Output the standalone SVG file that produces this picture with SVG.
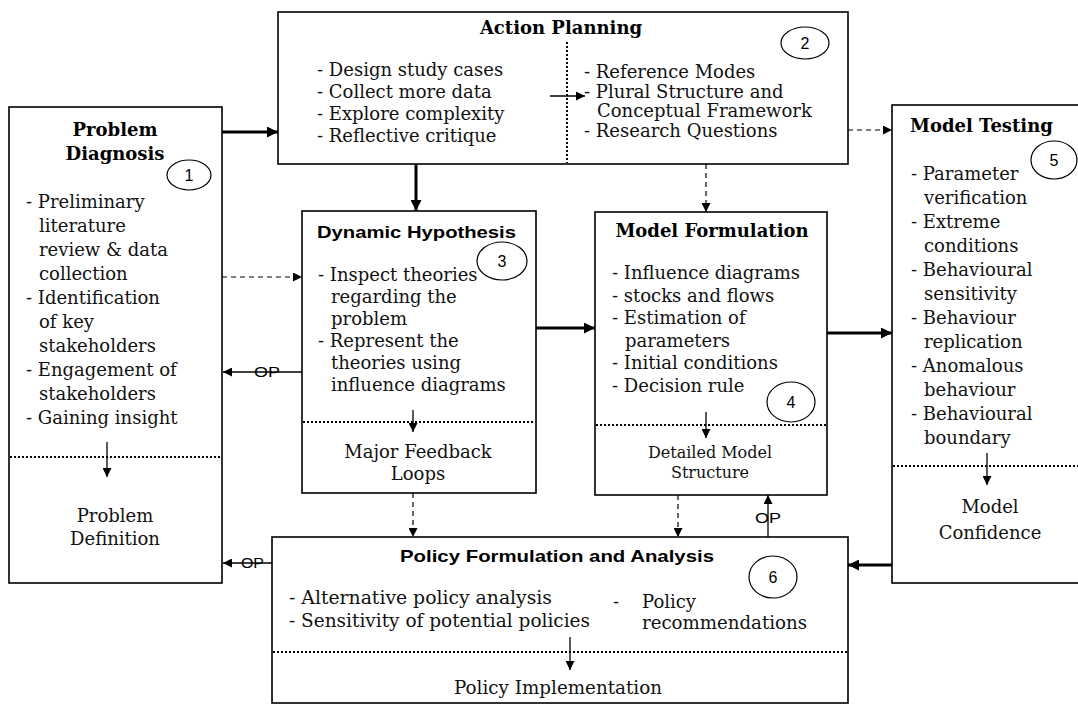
<svg xmlns="http://www.w3.org/2000/svg" width="1078" height="704" viewBox="0 0 1078 704">
<defs>
<style>
.box{fill:#fff;stroke:#000;stroke-width:1.6}
.t{font-family:"DejaVu Serif",serif;font-size:18px;fill:#111}
.tm{font-family:"DejaVu Serif",serif;font-size:16px;fill:#111}
.tb{font-family:"DejaVu Serif",serif;font-size:18px;font-weight:bold;fill:#000}
.ts{font-family:"Liberation Sans",Arial,sans-serif;font-size:17px;font-weight:bold;fill:#000}
.op{font-family:"Liberation Sans",Arial,sans-serif;font-size:15px;fill:#000}
.num{font-family:"Liberation Sans",Arial,sans-serif;font-size:16px;fill:#000}
.dot{stroke:#000;stroke-width:2;stroke-dasharray:2 2;fill:none}
.ell{fill:#fff;stroke:#000;stroke-width:1.2}
.thick{stroke:#000;stroke-width:3;fill:none}
.thin{stroke:#000;stroke-width:1.3;fill:none}
.dash{stroke:#000;stroke-width:1.2;stroke-dasharray:5 4;fill:none}
.c{text-anchor:middle}
</style>
<marker id="ahb" viewBox="0 0 10 10" refX="10" refY="5" markerWidth="12" markerHeight="11" markerUnits="userSpaceOnUse" orient="auto"><path d="M0,0 L10,5 L0,10 z" fill="#000"/></marker>
<marker id="ahs" viewBox="0 0 10 10" refX="10" refY="5" markerWidth="10" markerHeight="9" markerUnits="userSpaceOnUse" orient="auto"><path d="M0,0 L10,5 L0,10 z" fill="#000"/></marker>
</defs>
<rect width="1078" height="704" fill="#fff"/>

<g id="problem-diagnosis">
<rect class="box" x="9" y="107" width="213" height="476"/>
<text class="tb c" x="115" y="136">Problem</text>
<text class="tb c" x="115" y="160">Diagnosis</text>
<ellipse class="ell" cx="189" cy="175" rx="22" ry="15"/>
<text class="num c" x="189" y="181">1</text>
<text class="t" x="26" y="208">- Preliminary</text>
<text class="t" x="39" y="232">literature</text>
<text class="t" x="39" y="256">review  &amp; data</text>
<text class="t" x="39" y="280">collection</text>
<text class="t" x="26" y="304">- Identification</text>
<text class="t" x="39" y="328">of key</text>
<text class="t" x="39" y="352">stakeholders</text>
<text class="t" x="26" y="376">- Engagement  of</text>
<text class="t" x="39" y="400">stakeholders</text>
<text class="t" x="26" y="424">- Gaining  insight</text>
<line class="dot" x1="10" y1="457" x2="221" y2="457"/>
<line class="thin" x1="107" y1="442" x2="107" y2="477" marker-end="url(#ahs)"/>
<text class="t c" x="115" y="522">Problem</text>
<text class="t c" x="115" y="545">Definition</text>
</g>

<g id="action-planning">
<rect class="box" x="278" y="12" width="570" height="152"/>
<text class="tb c" x="561" y="34">Action Planning</text>
<ellipse class="ell" cx="805" cy="43" rx="24" ry="16"/>
<text class="num c" x="805" y="49">2</text>
<text class="t" x="317" y="76">- Design study cases</text>
<text class="t" x="317" y="98">- Collect more data</text>
<text class="t" x="317" y="120">- Explore  complexity</text>
<text class="t" x="317" y="142">- Reflective critique</text>
<line class="dot" x1="567" y1="42" x2="567" y2="163"/>
<line class="thin" x1="550" y1="96" x2="585" y2="96" marker-end="url(#ahs)"/>
<text class="t" x="584" y="78">- Reference Modes</text>
<text class="t" x="584" y="98">- Plural Structure and</text>
<text class="t" x="597" y="117">Conceptual Framework</text>
<text class="t" x="584" y="137">- Research Questions</text>
</g>

<g id="dynamic-hypothesis">
<rect class="box" x="302" y="211" width="234" height="282"/>
<text class="ts" x="317" y="238" textLength="199" lengthAdjust="spacingAndGlyphs">Dynamic Hypothesis</text>
<ellipse class="ell" cx="502" cy="261" rx="25" ry="19"/>
<text class="num c" x="502" y="267">3</text>
<text class="t" x="318" y="281">- Inspect theories</text>
<text class="t" x="331" y="303">regarding the</text>
<text class="t" x="331" y="325">problem</text>
<text class="t" x="318" y="347">- Represent the</text>
<text class="t" x="331" y="369">theories using</text>
<text class="t" x="331" y="391">influence diagrams</text>
<line class="dot" x1="303" y1="422" x2="535" y2="422"/>
<line class="thin" x1="413" y1="410" x2="413" y2="432" marker-end="url(#ahs)"/>
<text class="t c" x="418" y="458">Major Feedback</text>
<text class="t c" x="418" y="480">Loops</text>
</g>

<g id="model-formulation">
<rect class="box" x="595" y="212" width="232" height="283"/>
<text class="tb c" x="712" y="237">Model Formulation</text>
<text class="t" x="612" y="279">- Influence diagrams</text>
<text class="t" x="612" y="302">- stocks and flows</text>
<text class="t" x="612" y="324">- Estimation  of</text>
<text class="t" x="625" y="347">parameters</text>
<text class="t" x="612" y="369">- Initial  conditions</text>
<text class="t" x="612" y="392">- Decision rule</text>
<ellipse class="ell" cx="791" cy="402" rx="24" ry="20"/>
<text class="num c" x="791" y="408">4</text>
<line class="dot" x1="596" y1="425" x2="826" y2="425"/>
<line class="thin" x1="706" y1="412" x2="706" y2="438" marker-end="url(#ahs)"/>
<text class="tm c" x="710" y="458">Detailed Model</text>
<text class="tm c" x="710" y="478">Structure</text>
</g>

<g id="model-testing">
<rect class="box" x="892" y="105" width="200" height="478"/>
<text class="tb" x="910" y="132">Model Testing</text>
<ellipse class="ell" cx="1054" cy="160" rx="23" ry="19"/>
<text class="num c" x="1054" y="166">5</text>
<text class="t" x="911" y="180">- Parameter</text>
<text class="t" x="924" y="204">verification</text>
<text class="t" x="911" y="228">- Extreme</text>
<text class="t" x="924" y="252">conditions</text>
<text class="t" x="911" y="276">- Behavioural</text>
<text class="t" x="924" y="300">sensitivity</text>
<text class="t" x="911" y="324">- Behaviour</text>
<text class="t" x="924" y="348">replication</text>
<text class="t" x="911" y="372">- Anomalous</text>
<text class="t" x="924" y="396">behaviour</text>
<text class="t" x="911" y="420">- Behavioural</text>
<text class="t" x="924" y="444">boundary</text>
<line class="dot" x1="893" y1="466" x2="1078" y2="466"/>
<line class="thin" x1="987" y1="453" x2="987" y2="485" marker-end="url(#ahs)"/>
<text class="t c" x="990" y="513">Model</text>
<text class="t c" x="990" y="539">Confidence</text>
</g>

<g id="policy-formulation">
<rect class="box" x="272" y="537" width="576" height="166"/>
<text class="ts" x="400" y="562" textLength="314" lengthAdjust="spacingAndGlyphs">Policy Formulation and Analysis</text>
<ellipse class="ell" cx="773" cy="577" rx="24" ry="21"/>
<text class="num c" x="773" y="583">6</text>
<text class="t" x="289" y="604" textLength="263" lengthAdjust="spacingAndGlyphs">- Alternative policy  analysis</text>
<text class="t" x="289" y="627" textLength="301" lengthAdjust="spacingAndGlyphs">- Sensitivity  of potential  policies</text>
<text class="t" x="613" y="608">-</text>
<text class="t" x="642" y="608">Policy</text>
<text class="t" x="642" y="629" textLength="165" lengthAdjust="spacingAndGlyphs">recommendations</text>
<line class="dot" x1="273" y1="652" x2="847" y2="652"/>
<line class="thin" x1="570" y1="637" x2="570" y2="670" marker-end="url(#ahs)"/>
<text class="t c" x="558" y="694" textLength="208" lengthAdjust="spacingAndGlyphs">Policy Implementation</text>
</g>

<g id="connectors">
<line class="thick" x1="222" y1="132" x2="278" y2="132" marker-end="url(#ahb)"/>
<line class="thick" x1="416" y1="164" x2="416" y2="211" marker-end="url(#ahb)"/>
<line class="dash" x1="706" y1="164" x2="706" y2="212" marker-end="url(#ahs)"/>
<line class="dash" x1="848" y1="130" x2="892" y2="130" marker-end="url(#ahs)"/>
<line class="dash" x1="222" y1="277" x2="302" y2="277" marker-end="url(#ahs)"/>
<line class="thin" x1="302" y1="372" x2="223" y2="372" marker-end="url(#ahs)"/>
<text class="op" x="254" y="377" textLength="26" lengthAdjust="spacingAndGlyphs">OP</text>
<line class="thick" x1="536" y1="328" x2="595" y2="328" marker-end="url(#ahb)"/>
<line class="thick" x1="827" y1="333" x2="892" y2="333" marker-end="url(#ahb)"/>
<line class="dash" x1="413" y1="493" x2="413" y2="537" marker-end="url(#ahs)"/>
<line class="dash" x1="678" y1="495" x2="678" y2="537" marker-end="url(#ahs)"/>
<line class="thin" x1="768" y1="537" x2="768" y2="495" marker-end="url(#ahs)"/>
<text class="op c" x="768" y="523" textLength="26" lengthAdjust="spacingAndGlyphs">OP</text>
<line class="thin" x1="272" y1="563" x2="223" y2="563" marker-end="url(#ahs)"/>
<text class="op" x="241" y="568" textLength="23" lengthAdjust="spacingAndGlyphs">OP</text>
<line class="thick" x1="892" y1="565" x2="848" y2="565" marker-end="url(#ahb)"/>
</g>
</svg>
